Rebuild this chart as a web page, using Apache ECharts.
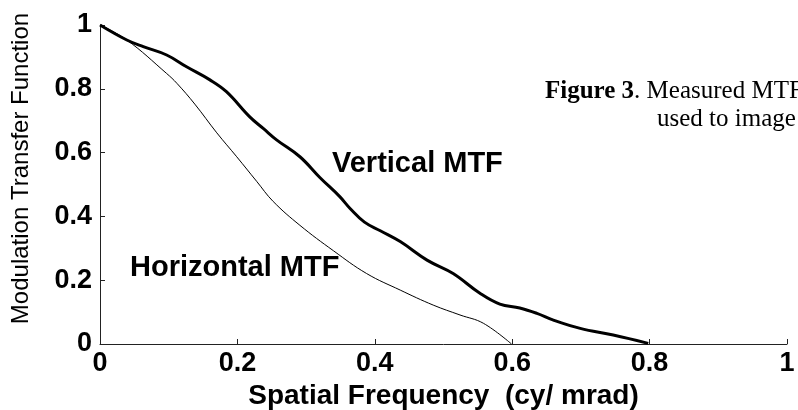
<!DOCTYPE html>
<html>
<head>
<meta charset="utf-8">
<script src="https://cdn.jsdelivr.net/npm/echarts@6/dist/echarts.min.js"></script>
<style>
html,body{margin:0;padding:0;background:#fff;}
#chart{width:798px;height:410px;}
</style>
</head>
<body>
<div id="chart"></div>
<script>
// Vertical MTF (thick curve)
var vFreq = [0, 0.039, 0.063, 0.097, 0.126, 0.16, 0.184, 0.218, 0.238, 0.257, 0.291, 0.32, 0.349, 0.364, 0.385, 0.408, 0.437, 0.476, 0.514, 0.553, 0.582, 0.611, 0.636, 0.66, 0.699, 0.747, 0.798];
var vMtf  = [1.0, 0.953, 0.932, 0.906, 0.869, 0.828, 0.791, 0.712, 0.675, 0.64, 0.587, 0.522, 0.462, 0.425, 0.382, 0.355, 0.321, 0.263, 0.221, 0.159, 0.125, 0.113, 0.096, 0.075, 0.049, 0.028, 0.002];
// Horizontal MTF (thin curve)
var hFreq = [0, 0.039, 0.097, 0.112, 0.138, 0.17, 0.199, 0.228, 0.252, 0.291, 0.34, 0.388, 0.437, 0.485, 0.524, 0.558, 0.599];
var hMtf  = [1.0, 0.953, 0.848, 0.817, 0.752, 0.662, 0.587, 0.51, 0.447, 0.372, 0.292, 0.221, 0.169, 0.122, 0.091, 0.065, 0.0];
// Axis ticks
var xTicks = [0, 0.2, 0.4, 0.6, 0.8, 1];
var yTicks = [0, 0.2, 0.4, 0.6, 0.8, 1];

function pairs(xs, ys){ return xs.map(function(x,i){ return [x, ys[i]]; }); }

var sans = "'Liberation Sans', Arial, sans-serif";
var chart = echarts.init(document.getElementById('chart'), null, {renderer:'canvas'});
chart.setOption({
  animation:false,
  backgroundColor:'#fff',
  grid:{left:100, right:11, top:25, bottom:66, containLabel:false, outerBoundsMode:'none'},
  xAxis:{
    type:'value', min:xTicks[0], max:xTicks[xTicks.length-1], interval:0.2,
    name:'Spatial Frequency  (cy/ mrad)', nameLocation:'middle', nameGap:28,
    nameTextStyle:{fontFamily:sans, fontWeight:'bold', fontSize:28, color:'#000'},
    axisLine:{show:true, lineStyle:{color:'#222', width:1}},
    axisTick:{show:true, inside:true, length:5, lineStyle:{color:'#222'}},
    axisLabel:{fontFamily:sans, fontWeight:'bold', fontSize:27, color:'#000', margin:6},
    splitLine:{show:false}
  },
  yAxis:{
    type:'value', min:yTicks[0], max:yTicks[yTicks.length-1], interval:0.2,
    name:'Modulation Transfer Function', nameLocation:'middle', nameGap:67,
    nameTextStyle:{fontFamily:sans, fontSize:24, color:'#000', padding:[0,0,0,32]},
    axisLine:{show:true, lineStyle:{color:'#222', width:1}},
    axisTick:{show:true, inside:true, length:5, lineStyle:{color:'#222'}},
    axisLabel:{fontFamily:sans, fontWeight:'bold', fontSize:27, color:'#000', margin:8},
    splitLine:{show:false}
  },
  series:[
    {type:'line', name:'Vertical MTF', data:pairs(vFreq, vMtf), showSymbol:false, smooth:0.4,
     lineStyle:{color:'#000', width:3}},
    {type:'line', name:'Horizontal MTF', data:pairs(hFreq, hMtf), showSymbol:false, smooth:0.4,
     lineStyle:{color:'#000', width:1}}
  ],
  graphic:[
    {type:'text', left:332, top:149, style:{text:'Vertical MTF', font:"bold 29px 'Liberation Sans', Arial, sans-serif", fill:'#000'}},
    {type:'text', left:130, top:253, style:{text:'Horizontal MTF', font:"bold 29px 'Liberation Sans', Arial, sans-serif", fill:'#000'}},
    {type:'text', left:545, top:79, style:{rich:{b:{fontFamily:"'Liberation Serif', 'Times New Roman', serif", fontWeight:'bold', fontSize:25, fill:'#000'}, n:{fontFamily:"'Liberation Serif', 'Times New Roman', serif", fontSize:25, fill:'#000'}}, text:'{b|Figure 3}{n|. Measured MTF}', fill:'#000'}},
    {type:'text', left:657, top:107, style:{text:'used to image', font:"25px 'Liberation Serif', 'Times New Roman', serif", fill:'#000'}}
  ]
});
</script>
</body>
</html>
